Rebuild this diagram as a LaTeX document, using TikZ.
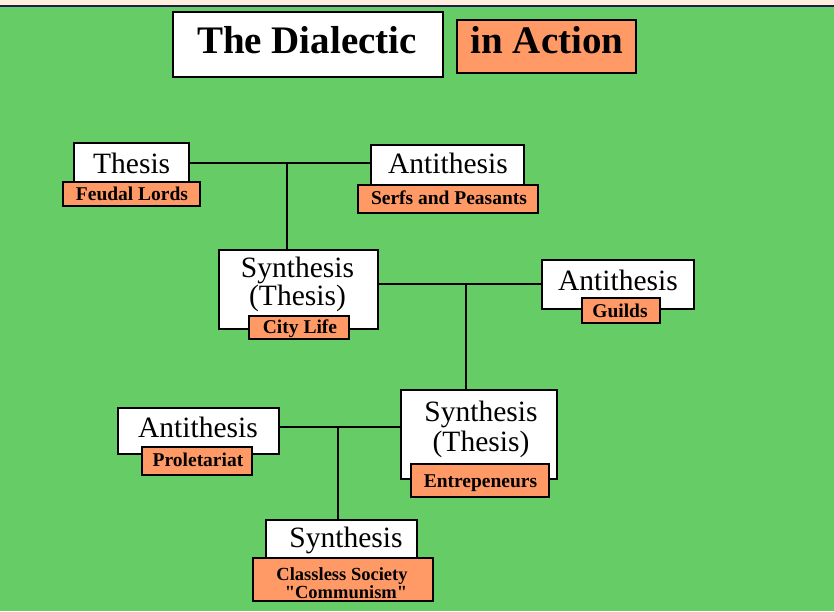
\documentclass[tikz,border=0pt]{standalone}
\usepackage{fontspec}
\setmainfont{Liberation Serif}
\definecolor{bggreen}{RGB}{102,204,102}
\definecolor{orangeC}{RGB}{255,153,102}
\definecolor{topbeige}{RGB}{255,238,220}
\definecolor{topline}{RGB}{30,30,70}
\tikzset{
  wbox/.style={draw=black, fill=white, line width=2pt, inner sep=0pt, outer sep=0pt},
  obox/.style={draw=black, fill=orangeC, line width=2pt, inner sep=0pt, outer sep=0pt},
  bigtxt/.style={font=\fontsize{29.5}{33}\selectfont, inner sep=0pt, anchor=base},
  labtxt/.style={font=\bfseries\fontsize{19.5}{20}\selectfont, inner sep=0pt, anchor=base},
  smalllab/.style={font=\bfseries\fontsize{18.5}{19}\selectfont\addfontfeatures{Ligatures=TeXOff}, inner sep=0pt, anchor=base},
  titletxt/.style={font=\bfseries\fontsize{39}{42}\selectfont, inner sep=0pt, anchor=base},
  conn/.style={line width=2pt}
}
\begin{document}
\begin{tikzpicture}[x=1pt,y=-1pt]
\useasboundingbox (0,0) rectangle (834,611);
\fill[bggreen] (0,7) rectangle (834,611);
\fill[topbeige] (0,0) rectangle (834,5);
\fill[topline] (0,5) rectangle (834,7);

% title
\node[wbox, minimum width=270pt, minimum height=65pt] (title) at (308,44.5) {};
\node[titletxt] (titlet) at (307,53) {The Dialectic};
\node[obox, minimum width=179pt, minimum height=53pt] (action) at (546.5,46.5) {};
\node[titletxt] (actiont) at (547,53) {in Action};

% junction coordinates
\coordinate (j1) at (287,163);
\coordinate (j2) at (466,284);
\coordinate (j3) at (338,427);

% boxes
\node[wbox, minimum width=115pt, minimum height=47pt] (thesis) at (131.5,166.5) {};
\node[obox, minimum width=137pt, minimum height=24pt] (feudal) at (131.5,194) {};
\node[wbox, minimum width=153pt, minimum height=45pt] (anti1) at (447.5,167.5) {};
\node[obox, minimum width=180pt, minimum height=28pt] (serfs) at (448,199) {};
\node[wbox, minimum width=159pt, minimum height=79pt] (syn1) at (298.5,289.5) {};
\node[obox, minimum width=100pt, minimum height=23pt] (city) at (299,327.5) {};
\node[wbox, minimum width=152pt, minimum height=49pt] (anti2) at (618,284.5) {};
\node[obox, minimum width=78pt, minimum height=25pt] (guilds) at (621,310.5) {};
\node[wbox, minimum width=161pt, minimum height=46pt] (anti3) at (198.5,431) {};
\node[obox, minimum width=110pt, minimum height=28pt] (prol) at (197,461) {};
\node[wbox, minimum width=156pt, minimum height=89pt] (syn2) at (479,434.5) {};
\node[obox, minimum width=138pt, minimum height=33pt] (entre) at (480,480.5) {};
\node[wbox, minimum width=151pt, minimum height=45pt] (syn3) at (341.5,542.5) {};
\node[obox, minimum width=180pt, minimum height=43pt] (classless) at (343,579.5) {};

% connectors
\draw[conn] (thesis.east |- j1) -- (anti1.west |- j1);
\draw[conn] (j1) -- (syn1.north -| j1);
\draw[conn] (syn1.east |- j2) -- (anti2.west |- j2);
\draw[conn] (j2) -- (syn2.north -| j2);
\draw[conn] (anti3.east |- j3) -- (syn2.west |- j3);
\draw[conn] (j3) -- (syn3.north -| j3);

% texts
\node[bigtxt] (thesist) at (131.7,173) {Thesis};
\node[labtxt] (feudalt) at (132,200) {Feudal Lords};
\node[bigtxt] (anti1t) at (448,173) {Antithesis};
\node[labtxt] (serfst) at (449,204) {Serfs and Peasants};
\node[bigtxt] (syn1a) at (297.5,277) {Synthesis};
\node[bigtxt] (syn1b) at (297.5,305) {(Thesis)};
\node[labtxt] (cityt) at (300,333) {City Life};
\node[bigtxt] (anti2t) at (618,290) {Antithesis};
\node[labtxt] (guildst) at (620,317) {Guilds};
\node[bigtxt] (anti3t) at (198,437) {Antithesis};
\node[labtxt] (prolt) at (198,466) {Proletariat};
\node[bigtxt] (syn2a) at (481,421) {Synthesis};
\node[bigtxt] (syn2b) at (481,451) {(Thesis)};
\node[labtxt] (entret) at (480.5,487) {Entrepeneurs};
\node[bigtxt] (syn3t) at (346,547) {Synthesis};
\node[smalllab] (classa) at (342,580.5) {Classless Society};
\node[smalllab] (classb) at (346,598) {"Communism"};
\end{tikzpicture}
\end{document}
